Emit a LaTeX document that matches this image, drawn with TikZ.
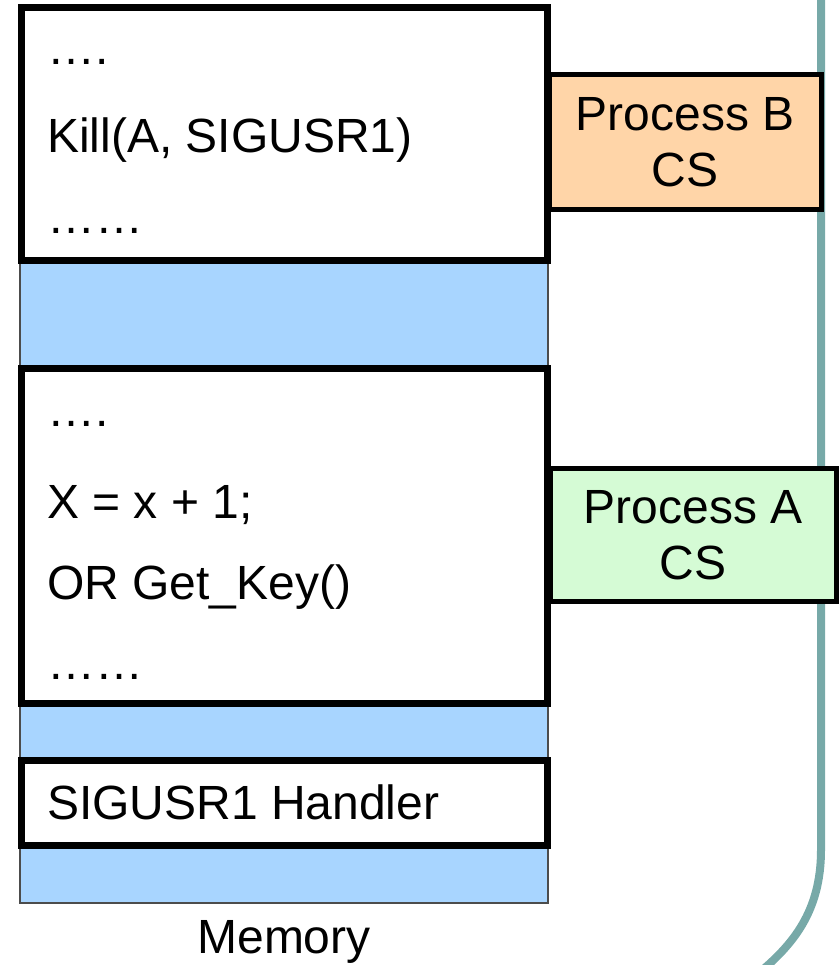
\documentclass[tikz,border=0pt]{standalone}
\usepackage{fontspec}
\setmainfont{Liberation Sans}
\definecolor{memblue}{HTML}{A8D5FF}
\definecolor{porange}{HTML}{FFD5A8}
\definecolor{pgreen}{HTML}{D5FBD5}
\definecolor{teal1}{HTML}{77A9A8}
\begin{document}
\begin{tikzpicture}[x=1pt,y=-1pt,
  codebox/.style={draw=black,line width=7pt,fill=white},
  procbox/.style={draw=black,line width=5pt},
  txt/.style={anchor=base west,inner sep=0pt,font=\fontsize{48}{58}\selectfont},
  ctxt/.style={align=center,inner sep=0pt,font=\fontsize{48}{56}\selectfont}]
\useasboundingbox (0,0) rectangle (838,965);
% teal boundary line
\draw[teal1,line width=8pt] (821,-5) -- (821,850) .. controls (821,912) and (792,945) .. (760,972);
% memory
\draw[fill=memblue,draw=black!70,line width=1.2pt] (20,10) rectangle (548,903);
\draw[codebox] (21,8) rectangle (547,261);
\draw[codebox] (21,368) rectangle (547,703);
\draw[codebox] (21,760) rectangle (547,845);
% texts
\node[txt] (t1) at (47,65) {….};
\node[txt] (t2) at (47,153) {Kill(A, SIGUSR1)};
\node[txt] (t3) at (47,234) {……};
\node[txt] (t4) at (47,426) {….};
\node[txt] (t5) at (47,518) {X = x + 1;};
\node[txt] (t6) at (47,599) {OR Get\_Key()};
\node[txt] (t7) at (47,679) {……};
\node[txt] (t8) at (47,819) {SIGUSR1 Handler};
\node[anchor=base,inner sep=0pt,font=\fontsize{48}{58}\selectfont] (mem) at (284,953) {Memory};
% process boxes
\draw[procbox,fill=porange] (549,75) rectangle (821,210);
\node[ctxt] (pb) at (685,142) {Process B\\CS};
\draw[procbox,fill=pgreen] (550,468) rectangle (836,601);
\node[ctxt] (pa) at (693,535) {Process A\\CS};
\end{tikzpicture}
\end{document}
